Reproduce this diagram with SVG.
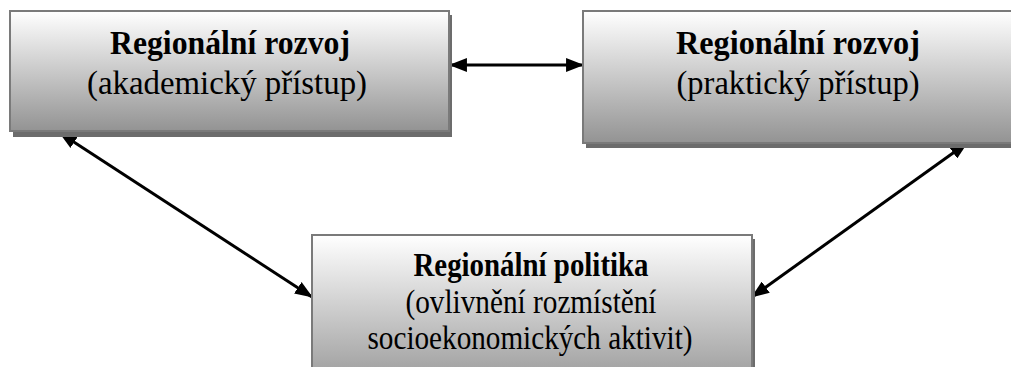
<svg xmlns="http://www.w3.org/2000/svg" width="1011" height="367" viewBox="0 0 1011 367">
<defs>
<linearGradient id="g" x1="0" y1="0" x2="0" y2="1">
<stop offset="0" stop-color="#ffffff"/>
<stop offset="1" stop-color="#939393"/>
</linearGradient>
<marker id="ah" markerUnits="userSpaceOnUse" markerWidth="18" markerHeight="14" refX="16" refY="6.5" orient="auto-start-reverse" viewBox="0 0 17 13">
<path d="M0,0 L17,6.5 L0,13 Z" fill="#000"/>
</marker>
<style>
.sh{fill:#6c6c6c}
.bx{fill:url(#g);stroke:#7a7a7a;stroke-width:2}
.c{stroke:#000;stroke-width:3;fill:none;marker-start:url(#ah);marker-end:url(#ah)}
</style>
</defs>
<g id="connectors">
<line class="c" x1="450" y1="65" x2="583" y2="65"/>
<line class="c" x1="60" y1="133" x2="312" y2="297"/>
<line class="c" x1="752" y1="297" x2="967" y2="143"/>
</g>
<g id="node-akademicky">
<rect class="sh" x="13" y="15" width="439" height="122"/>
<rect class="bx" x="10" y="11" width="439" height="120"/>
<g font-family="Liberation Serif, Times New Roman, serif" font-size="33" text-anchor="middle" fill="#000">
<text x="230" y="54" font-weight="bold" textLength="240" lengthAdjust="spacingAndGlyphs">Regionální rozvoj</text>
<text x="227" y="94" textLength="280" lengthAdjust="spacingAndGlyphs">(akademický přístup)</text>
</g>
</g>
<g id="node-prakticky">
<rect class="sh" x="586" y="15" width="430" height="133"/>
<rect class="bx" x="583" y="11" width="430" height="132"/>
<g font-family="Liberation Serif, Times New Roman, serif" font-size="33" text-anchor="middle" fill="#000">
<text x="798" y="54" font-weight="bold" textLength="244" lengthAdjust="spacingAndGlyphs">Regionální rozvoj</text>
<text x="798" y="94" textLength="243" lengthAdjust="spacingAndGlyphs">(praktický přístup)</text>
</g>
</g>
<g id="node-politika">
<rect class="sh" x="315" y="239" width="440" height="160"/>
<rect class="bx" x="312" y="235" width="440" height="160"/>
<g font-family="Liberation Serif, Times New Roman, serif" font-size="33" text-anchor="middle" fill="#000">
<text x="531" y="276" font-weight="bold" textLength="235" lengthAdjust="spacingAndGlyphs">Regionální politika</text>
<text x="531" y="313" textLength="251" lengthAdjust="spacingAndGlyphs">(ovlivnění rozmístění</text>
<text x="530" y="349" textLength="325" lengthAdjust="spacingAndGlyphs">socioekonomických aktivit)</text>
</g>
</g>
</svg>
